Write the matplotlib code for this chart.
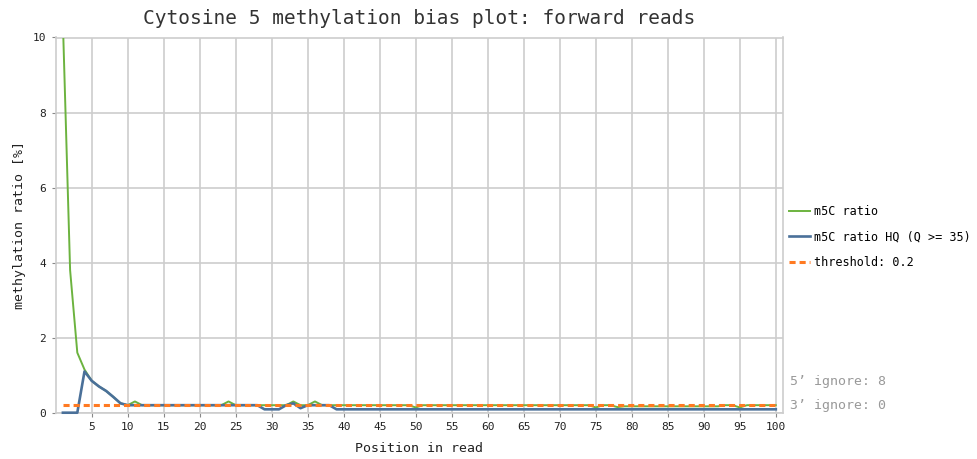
import matplotlib
matplotlib.use("Agg")
import matplotlib.pyplot as plt

# ---- data ----
positions = list(range(1, 101))

m5c_ratio = [10.4, 3.8, 1.6, 1.15, 0.85, 0.7, 0.58, 0.42, 0.25, 0.2,
             0.3, 0.2, 0.2, 0.2, 0.2, 0.2, 0.2, 0.2, 0.2, 0.2,
             0.2, 0.2, 0.2, 0.3, 0.2, 0.2, 0.2, 0.2, 0.2, 0.2,
             0.2, 0.2, 0.3, 0.2, 0.2, 0.3, 0.2, 0.2, 0.2, 0.2,
             0.2, 0.2, 0.2, 0.2, 0.2, 0.2, 0.2, 0.2, 0.2, 0.14,
             0.2, 0.2, 0.2, 0.2, 0.2, 0.2, 0.2, 0.2, 0.2, 0.2,
             0.2, 0.2, 0.2, 0.2, 0.2, 0.2, 0.2, 0.2, 0.2, 0.2,
             0.2, 0.2, 0.2, 0.2, 0.14, 0.2, 0.2, 0.15, 0.17, 0.17,
             0.17, 0.17, 0.17, 0.17, 0.17, 0.17, 0.17, 0.17, 0.17, 0.17,
             0.17, 0.17, 0.2, 0.2, 0.14, 0.2, 0.2, 0.2, 0.2, 0.2]

m5c_ratio_hq = [0.0, 0.0, 0.0, 1.1, 0.85, 0.7, 0.58, 0.42, 0.25, 0.2,
                0.2, 0.2, 0.2, 0.2, 0.2, 0.2, 0.2, 0.2, 0.2, 0.2,
                0.2, 0.2, 0.2, 0.2, 0.2, 0.2, 0.2, 0.2, 0.09, 0.09,
                0.09, 0.2, 0.25, 0.12, 0.2, 0.2, 0.2, 0.2, 0.09, 0.09,
                0.09, 0.09, 0.09, 0.09, 0.09, 0.09, 0.09, 0.09, 0.09, 0.09,
                0.09, 0.09, 0.09, 0.09, 0.09, 0.09, 0.09, 0.09, 0.09, 0.09,
                0.09, 0.09, 0.09, 0.09, 0.09, 0.09, 0.09, 0.09, 0.09, 0.09,
                0.09, 0.09, 0.09, 0.09, 0.09, 0.09, 0.09, 0.09, 0.09, 0.09,
                0.09, 0.09, 0.09, 0.09, 0.09, 0.09, 0.09, 0.09, 0.09, 0.09,
                0.09, 0.09, 0.09, 0.09, 0.09, 0.09, 0.09, 0.09, 0.09, 0.09]

threshold = 0.2
ignore_5 = 8
ignore_3 = 0

x_ticks = list(range(5, 101, 5))
y_ticks = [0, 2, 4, 6, 8, 10]

title = "Cytosine 5 methylation bias plot: forward reads"
x_label = "Position in read"
y_label = "methylation ratio [%]"
series_labels = ["m5C ratio", "m5C ratio HQ (Q >= 35)", f"threshold: {threshold}"]

# ---- figure ----
plt.rcParams['font.family'] = ['DejaVu Sans Mono']
W, H = 977, 459
fig = plt.figure(figsize=(W / 100, H / 100), dpi=100)
left, right, bottom, top = 55.7, 783, 412.7, 37.5
ax = fig.add_axes([left / W, 1 - bottom / H, (right - left) / W, (bottom - top) / H])

green = "#6cb33f"
blue = "#4a7099"
orange = "#ff7a22"
gridc = "#cdcdcd"

l1, = ax.plot(positions, m5c_ratio, color=green, lw=1.4, zorder=3)
l2, = ax.plot(positions, m5c_ratio_hq, color=blue, lw=1.9, zorder=4, clip_on=False)
l3, = ax.plot(positions, [threshold] * len(positions), color=orange, lw=2.2,
              linestyle=(0, (2, 1.3)), zorder=5)

ax.set_xlim(0, 101)
ax.set_ylim(0, 10)
ax.set_xticks(x_ticks)
ax.set_yticks(y_ticks)
ax.set_xticklabels([str(t) for t in x_ticks], fontsize=8)
ax.set_yticklabels([str(t) for t in y_ticks], fontsize=8)
ax.grid(True, color=gridc, lw=1.2)
ax.set_axisbelow(True)
for s in ax.spines.values():
    s.set_color(gridc)
    s.set_linewidth(1.2)
ax.tick_params(axis='both', length=3, color="#888888", width=0.8, pad=4, labelcolor="#222222")

cx = (left + right) / 2 / W
fig.text(cx, 1 - 18 / H, title, ha='center', va='center', fontsize=14, color="#333333")
fig.text(cx, 1 - 449 / H, x_label, ha='center', va='center', fontsize=9.5, color="#222222")
fig.text(20 / W, 1 - 225 / H, y_label, ha='center', va='center', rotation=90,
         fontsize=9.5, color="#222222")

fig.legend([l1, l2, l3], series_labels, loc='upper left',
           bbox_to_anchor=(789 / W, 1 - 205 / H), frameon=False, fontsize=8.5,
           handlelength=1.8, handletextpad=0.3, labelspacing=1.05, borderaxespad=0,
           borderpad=0)

fig.text(790 / W, 1 - 382 / H, f"5\u2019 ignore: {ignore_5}", ha='left', va='center',
         fontsize=9.5, color="#999999")
fig.text(790 / W, 1 - 405 / H, f"3\u2019 ignore: {ignore_3}", ha='left', va='center',
         fontsize=9.5, color="#999999")

fig.savefig("out.png", dpi=100)
